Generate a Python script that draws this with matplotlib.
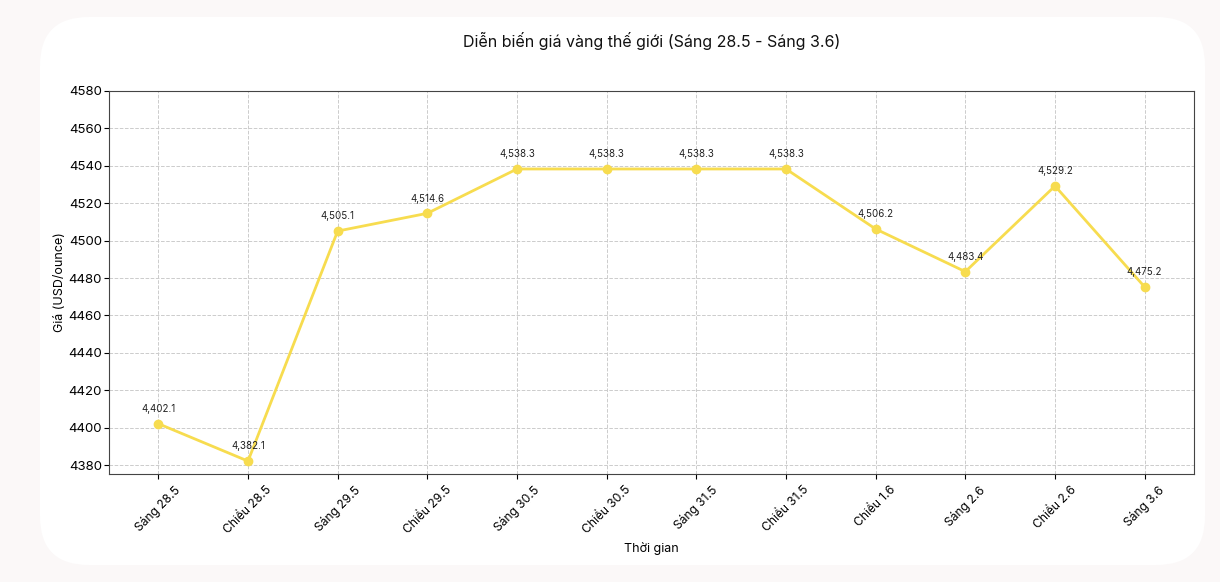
import matplotlib.pyplot as plt
from matplotlib.patches import FancyBboxPatch

labels = ["Sáng 28.5", "Chiều 28.5", "Sáng 29.5", "Chiều 29.5", "Sáng 30.5", "Chiều 30.5",
          "Sáng 31.5", "Chiều 31.5", "Chiều 1.6", "Sáng 2.6", "Chiều 2.6", "Sáng 3.6"]
prices = [4402.1, 4382.1, 4505.1, 4514.6, 4538.3, 4538.3,
          4538.3, 4538.3, 4506.2, 4483.4, 4529.2, 4475.2]

plt.rcParams["font.family"] = ["Inter", "DejaVu Sans"]

W, H = 1220, 582
fig = plt.figure(figsize=(W / 100, H / 100), dpi=100)
fig.patch.set_facecolor("#fbf8f8")
card = FancyBboxPatch((40 / W, 17 / H), 1165 / W, 548 / H,
                      boxstyle="round,pad=0,rounding_size=0.04",
                      transform=fig.transFigure, facecolor="white", edgecolor="none",
                      mutation_aspect=W / H, zorder=-1)
fig.patches.append(card)

ax = fig.add_axes([109 / W, 1 - 474 / H, (1194 - 109) / W, (474 - 91) / H])
ax.set_zorder(2)
ax.set_facecolor("white")
x = list(range(len(labels)))
ax.plot(x, prices, "-o", color="#f7dc4f", lw=2, ms=6, zorder=3)
for xi, v in zip(x, prices):
    ax.annotate(f"{v:,.1f}", (xi, v), xytext=(0, 7), textcoords="offset points",
                ha="center", va="bottom", fontsize=7, color="#222222")

ax.set_xlim(-0.55, len(labels) - 0.45)
ax.set_ylim(4375.2, 4580)
ax.set_yticks(range(4380, 4581, 20))
ax.set_xticks(x)
ax.set_xticklabels(labels, rotation=45, fontsize=8.7)
ax.tick_params(axis="y", labelsize=9.5, pad=1.5)
ax.grid(True, ls="--", color="#cccccc", lw=0.7)
ax.set_axisbelow(True)
for s in ax.spines.values():
    s.set_color("#444444")
ax.set_xlabel("Thời gian", fontsize=9)
ax.set_ylabel("Giá (USD/ounce)", fontsize=9, labelpad=2)
fig.text(652 / W, 1 - 41 / H, "Diễn biến giá vàng thế giới (Sáng 28.5 - Sáng 3.6)",
         ha="center", va="center", fontsize=11.5, color="#111111")

fig.savefig("out.png", dpi=100)
